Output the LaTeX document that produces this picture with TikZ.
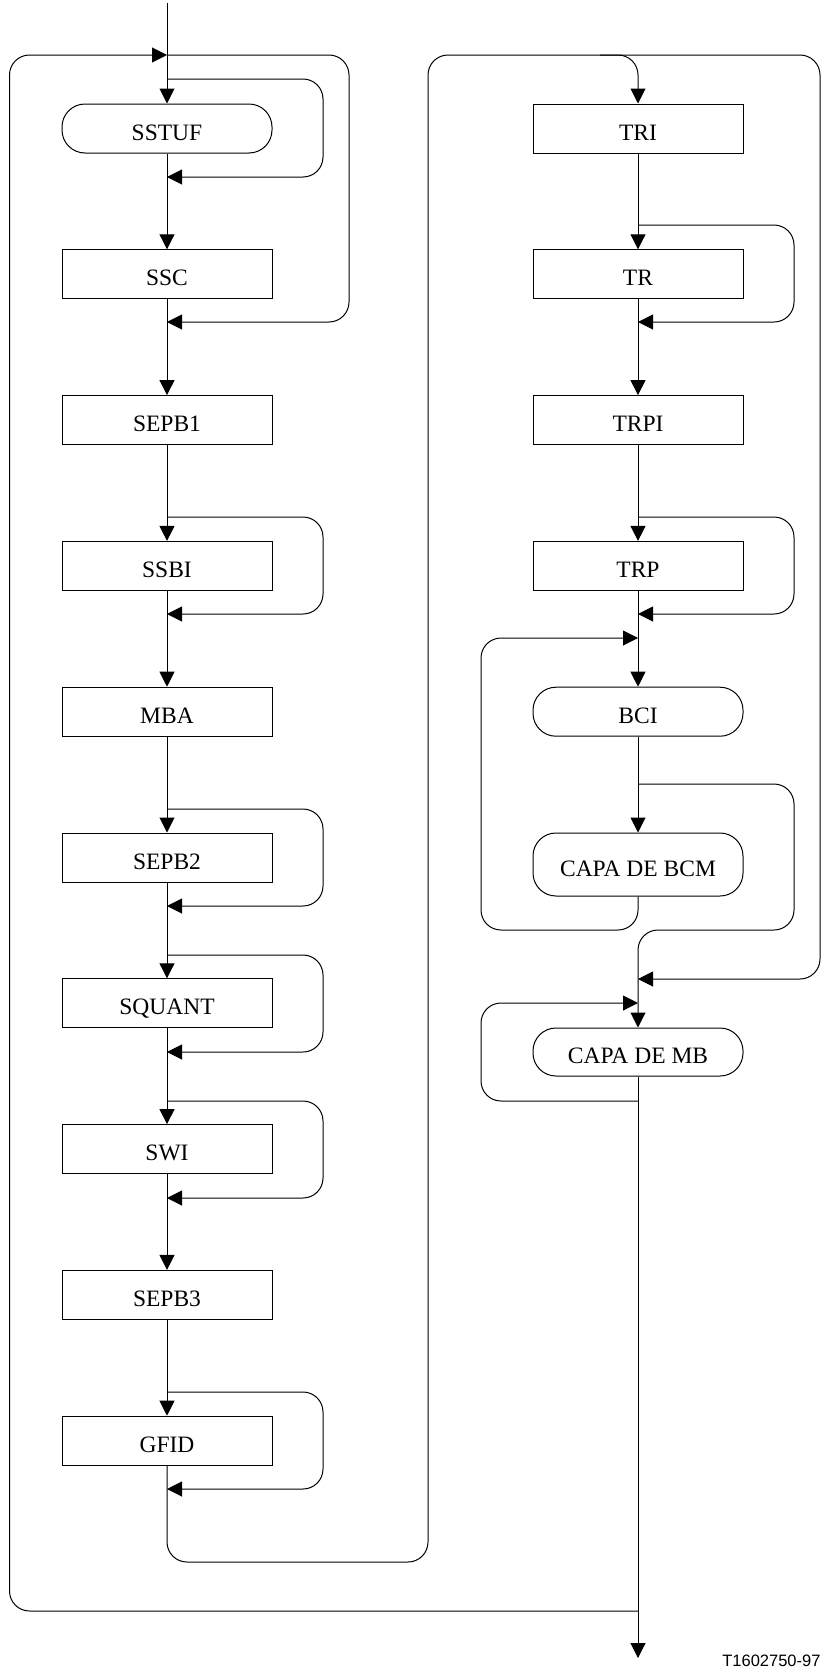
\documentclass[tikz,border=0pt]{standalone}
\usepackage{fontspec}
\setmainfont{Liberation Serif}
\newfontfamily\labelfont{Liberation Sans}
\usetikzlibrary{arrows.meta}
\begin{document}
\begin{tikzpicture}[x=1pt,y=-1pt,
  line width=1pt,
  arr/.style={-{Triangle[length=15pt,width=15pt]}},
  conn/.style={rounded corners=20pt},
  procbox/.style={draw, rectangle, minimum width=210pt, minimum height=49pt, inner sep=0pt,
    font=\fontsize{23.5pt}{28pt}\selectfont, text height=23pt, text depth=0pt},
  termbox/.style={procbox, rounded corners=23pt},
  codelabel/.style={font=\labelfont\fontsize{16.5pt}{20pt}\selectfont, anchor=base east, inner sep=0pt}
]
\useasboundingbox (0,0) rectangle (825,1673);

% ---------- left column nodes
\node[termbox] (sstuf)  at (167,128.5)  {SSTUF};
\node[procbox] (ssc)    at (167,274.3)  {SSC};
\node[procbox] (sepb1)  at (167,420.1)  {SEPB1};
\node[procbox] (ssbi)   at (167,565.9)  {SSBI};
\node[procbox] (mba)    at (167,711.7)  {MBA};
\node[procbox] (sepb2)  at (167,857.5)  {SEPB2};
\node[procbox] (squant) at (167,1003.3) {SQUANT};
\node[procbox] (swi)    at (167,1149.1) {SWI};
\node[procbox] (sepb3)  at (167,1294.9) {SEPB3};
\node[procbox] (gfid)   at (167,1440.7) {GFID};

% ---------- right column nodes
\node[procbox] (tri)  at (638,128.5) {TRI};
\node[procbox] (tr)   at (638,274.3) {TR};
\node[procbox] (trpi) at (638,420.1) {TRPI};
\node[procbox] (trp)  at (638,565.9) {TRP};
\node[termbox] (bci)  at (638,711.7) {BCI};
\node[termbox, minimum height=63pt] (capabcm) at (638,864.5) {CAPA DE BCM};
\node[termbox, minimum height=48pt] (capamb)  at (638,1052)  {CAPA DE MB};

\node[codelabel] (code) at (821,1666) {T1602750-97};

% ---------- junction coordinates
\coordinate (in)       at (167,3);
\coordinate (top)      at (167,55);
\coordinate (sscret)   at (167,322);
\coordinate (sstufin)  at (167,79);
\coordinate (sstufout) at (167,177);
\coordinate (ssbiin)   at (167,517);
\coordinate (ssbiout)  at (167,614);
\coordinate (sepbin)   at (167,809);
\coordinate (sepbout)  at (167,906);
\coordinate (squin)    at (167,955);
\coordinate (squout)   at (167,1052);
\coordinate (swiin)    at (167,1101);
\coordinate (swiout)   at (167,1198);
\coordinate (gfidin)   at (167,1392);
\coordinate (gfidout)  at (167,1489);
\coordinate (rsplit)   at (600,55);
\coordinate (trin)     at (638,225);
\coordinate (trout)    at (638,322);
\coordinate (trpin)    at (638,517);
\coordinate (trpout)   at (638,614);
\coordinate (bciret)   at (638,638);
\coordinate (bcisplit) at (638,784);
\coordinate (mbskip)   at (638,979);
\coordinate (mbret)    at (638,1003);
\coordinate (mbloop)   at (638,1101);
\coordinate (botjoin)  at (638,1611);
\coordinate (out)      at (638,1658);

% ---------- left column connectors
\draw[arr] (in) -- (sstuf.north);
\draw[arr,conn] (botjoin) -- (9.5,1611) -- (9.5,55) -- (top);
\draw[arr,conn] (top) -- (349,55) -- (349,322) -- (sscret);
\draw[arr,conn] (sstufin) -- (323,79) -- (323,177) -- (sstufout);
\draw[arr] (sstuf.south) -- (ssc.north);
\draw[arr] (ssc.south) -- (sepb1.north);
\draw[arr] (sepb1.south) -- (ssbi.north);
\draw[arr,conn] (ssbiin) -- (323,517) -- (323,614) -- (ssbiout);
\draw[arr] (ssbi.south) -- (mba.north);
\draw[arr] (mba.south) -- (sepb2.north);
\draw[arr,conn] (sepbin) -- (323,809) -- (323,906) -- (sepbout);
\draw[arr] (sepb2.south) -- (squant.north);
\draw[arr,conn] (squin) -- (323,955) -- (323,1052) -- (squout);
\draw[arr] (squant.south) -- (swi.north);
\draw[arr,conn] (swiin) -- (323,1101) -- (323,1198) -- (swiout);
\draw[arr] (swi.south) -- (sepb3.north);
\draw[arr] (sepb3.south) -- (gfid.north);
\draw[arr,conn] (gfidin) -- (323,1392) -- (323,1489) -- (gfidout);

% ---------- link to right column
\draw[arr,conn] (gfid.south) -- (167,1562) -- (428,1562) -- (428,55) -- (638,55) -- (tri.north);
\draw[arr,conn] (rsplit) -- (820,55) -- (820,979) -- (mbskip);

% ---------- right column connectors
\draw[arr] (tri.south) -- (tr.north);
\draw[arr,conn] (trin) -- (794,225) -- (794,322) -- (trout);
\draw[arr] (tr.south) -- (trpi.north);
\draw[arr] (trpi.south) -- (trp.north);
\draw[arr,conn] (trpin) -- (794,517) -- (794,614) -- (trpout);
\draw[arr] (trp.south) -- (bci.north);
\draw[arr] (bci.south) -- (capabcm.north);
\draw[arr,conn] (capabcm.south) -- (638,930) -- (481,930) -- (481,638) -- (bciret);
\draw[arr,conn] (bcisplit) -- (794,784) -- (794,930) -- (638,930) -- (capamb.north);
\draw[arr,conn] (mbloop) -- (481,1101) -- (481,1003) -- (mbret);
\draw[arr] (capamb.south) -- (out);
\end{tikzpicture}
\end{document}
